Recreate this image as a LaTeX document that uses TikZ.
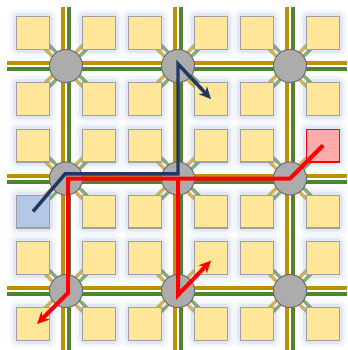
\documentclass[tikz,border=0pt]{standalone}
\usepackage{tikz}
\usetikzlibrary{arrows.meta, calc, backgrounds}
\usepackage{xcolor}

\definecolor{tilefill}{HTML}{FFE699}
\definecolor{glowblue}{HTML}{DCE4F4}
\definecolor{wiregold}{HTML}{BF9000}
\definecolor{wiregreen}{HTML}{548235}
\definecolor{pathnavy}{HTML}{203864}
\definecolor{srcblue}{HTML}{B4C7E7}
\definecolor{dstred}{HTML}{FFABAB}

\begin{document}
\begin{tikzpicture}[
  x=0.75pt, y=-0.75pt,
  >=Stealth,
  tile/.style={draw=gray!75, line width=0.9pt, fill=tilefill, minimum size=24.6pt, inner sep=0pt},
  router/.style={circle, draw=gray!85!black, fill=gray!65, line width=0.75pt, minimum size=24.8pt, inner sep=0pt},
  wire/.style={line width=3pt},
  stub/.style={line width=2.4pt, opacity=0.65},
  glow/.style={fill=glowblue, rounded corners=4pt},
  route/.style={line width=2.6pt, -{Stealth[length=9pt, width=8.5pt]}}
]
\useasboundingbox (0,0) rectangle (347,350);

% TILES
\foreach \c/\tx in {1/33, 2/99, 3/145, 4/211, 5/257, 6/323}
  \foreach \r/\ty in {1/33, 2/99, 3/145.5, 4/211.5, 5/258, 6/324}
    \node[tile] (t-\c-\r) at (\tx,\ty) {};

% source and destination tiles
\node[tile, fill=srcblue] at (t-1-4) {};
\node[tile, fill=dstred, draw=red] at (t-6-3) {};

% ROUTERS
\foreach \i/\rx in {1/66, 2/178, 3/290}
  \foreach \j/\ry in {1/66, 2/178.5, 3/291}
    \node[router] (r-\i-\j) at (\rx,\ry) {};

\begin{pgfonlayer}{background}
% glow round the tiles
\foreach \c in {1,...,6}
  \foreach \r in {1,...,6} {
    \fill[glow, opacity=0.35] ($(t-\c-\r.south west)+(-6,6)$) rectangle ($(t-\c-\r.north east)+(6,-6)$);
    \fill[glow, opacity=0.8] ($(t-\c-\r.south west)+(-3,3)$) rectangle ($(t-\c-\r.north east)+(3,-3)$);
  }

% WIRES (gold and green pairs)
\foreach \ry in {66, 178.5, 291} {
  \draw[wire, wiregold] (7,\ry-3) -- (347,\ry-3);
  \draw[wire, wiregreen] (7,\ry+3) -- (347,\ry+3);
}
\foreach \rx in {66, 178, 290} {
  \draw[wire, wiregold] (\rx-3,7) -- (\rx-3,350);
  \draw[wire, wiregreen] (\rx+3,7) -- (\rx+3,350);
}

% router to tile links
\foreach \i in {1,2,3}
  \foreach \j in {1,2,3}
    \foreach \dx in {-1,1}
      \foreach \dy in {-1,1} {
        \pgfmathtruncatemacro{\tc}{2*\i-(1-\dx)/2}
        \pgfmathtruncatemacro{\tr}{2*\j-(1-\dy)/2}
        \pgfmathsetmacro{\gs}{2*\dx*\dy}
        \pgfmathsetmacro{\ns}{-2*\dx*\dy}
        \draw[stub, wiregold] ([shift={(-2,\gs)}]r-\i-\j.center) -- ([shift={(-2,\gs)}]t-\tc-\tr.center);
        \draw[stub, wiregreen] ([shift={(2,\ns)}]r-\i-\j.center) -- ([shift={(2,\ns)}]t-\tc-\tr.center);
      }
\end{pgfonlayer}

% UNICAST ROUTE
\draw[route, pathnavy] (t-1-4.center) -- ([xshift=-0.75pt, yshift=3.4pt]r-1-2.center)
  -- ([yshift=3.4pt]r-2-2.center) -- ([yshift=1.5pt]r-2-1.center) -- (t-4-2.center);

% MULTICAST ROUTE
\draw[route, red, line width=3pt] (t-6-3.center) -- (r-3-2.center)
  -- ([xshift=1.5pt]r-1-2.center) -- ([xshift=1.5pt, yshift=-1.5pt]r-1-3.center) -- ([xshift=3pt]t-1-6.center);
\draw[route, red, line width=3pt] (r-2-2.center) -- ([yshift=-3pt]r-2-3.center) -- ([yshift=-2pt]t-4-5.center);

\end{tikzpicture}
\end{document}
